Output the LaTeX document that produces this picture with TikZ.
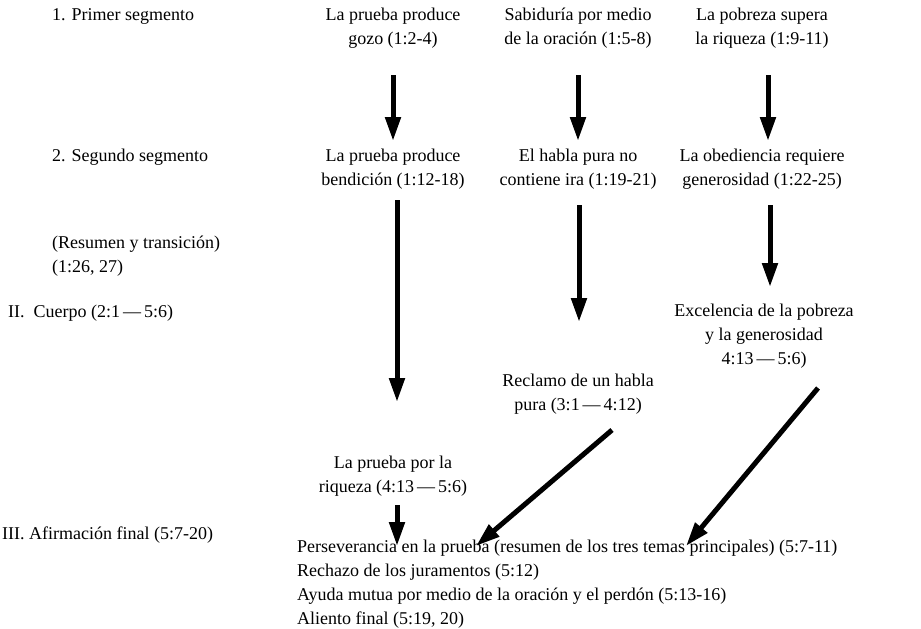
\documentclass[tikz,border=0pt]{standalone}
\usepackage{fontspec}
\setmainfont{Liberation Serif}
\usetikzlibrary{arrows.meta}
\begin{document}
\begin{tikzpicture}[x=1pt,y=-1pt,
  every node/.style={font=\fontsize{18}{23.8}\selectfont, inner sep=0pt},
  lbl/.style={anchor=west},
  box/.style={align=center},
  flow/.style={line width=5pt, -{Triangle[width=15pt,length=24pt]}}]
\useasboundingbox (0,0) rectangle (921,629);
% left labels
\node[lbl] (l1) at (52,16) {1. Primer segmento};
\node[lbl] (l2) at (52,157) {2. Segundo segmento};
\node[lbl,align=left] (l3) at (52,256) {(Resumen y transición)\\(1:26, 27)};
\node[lbl] (l4) at (8,313) {II.\ \ Cuerpo (2:1\,—\,5:6)};
\node[lbl] (l5) at (2,535) {III. Afirmación final (5:7-20)};
% column 1
\node[box] (a1) at (393,28) {La prueba produce\\gozo (1:2-4)};
\node[box] (a2) at (393,169) {La prueba produce\\bendición (1:12-18)};
\node[box] (a3) at (393,476) {La prueba por la\\riqueza (4:13\,—\,5:6)};
% column 2
\node[box] (b1) at (578,28) {Sabiduría por medio\\de la oración (1:5-8)};
\node[box] (b2) at (578,169) {El habla pura no\\contiene ira (1:19-21)};
\node[box] (b3) at (578,394) {Reclamo de un habla\\pura (3:1\,—\,4:12)};
% column 3
\node[box] (c1) at (762,28) {La pobreza supera\\la riqueza (1:9-11)};
\node[box] (c2) at (762,169) {La obediencia requiere\\generosidad (1:22-25)};
\node[box] (c3) at (764,336) {Excelencia de la pobreza\\y la generosidad\\4:13\,—\,5:6)};
% bottom
\node[anchor=north west,align=left] (f) at (297,540) {Perseverancia en la prueba (resumen de los tres temas principales) (5:7-11)\\Rechazo de los juramentos (5:12)\\Ayuda mutua por medio de la oración y el perdón (5:13-16)\\Aliento final (5:19, 20)};
% coordinates for arrows
\coordinate (a1s) at (393,75); \coordinate (a1e) at (393,141);
\coordinate (a2s) at (397,200); \coordinate (a2e) at (397,402);
\coordinate (a3s) at (397,505); \coordinate (a3e) at (397,546);
\coordinate (b1s) at (578,75); \coordinate (b1e) at (578,141);
\coordinate (b2s) at (579,205); \coordinate (b2e) at (579,322);
\coordinate (b3s) at (612,430); \coordinate (b3e) at (476,546);
\coordinate (c1s) at (768,75); \coordinate (c1e) at (768,141);
\coordinate (c2s) at (770,205); \coordinate (c2e) at (770,287);
\coordinate (c3s) at (818,388); \coordinate (c3e) at (686,546);
\foreach \p in {a1,a2,a3,b1,b2,b3,c1,c2,c3}{\draw[flow] (\p s) -- (\p e);}
\end{tikzpicture}
\end{document}
